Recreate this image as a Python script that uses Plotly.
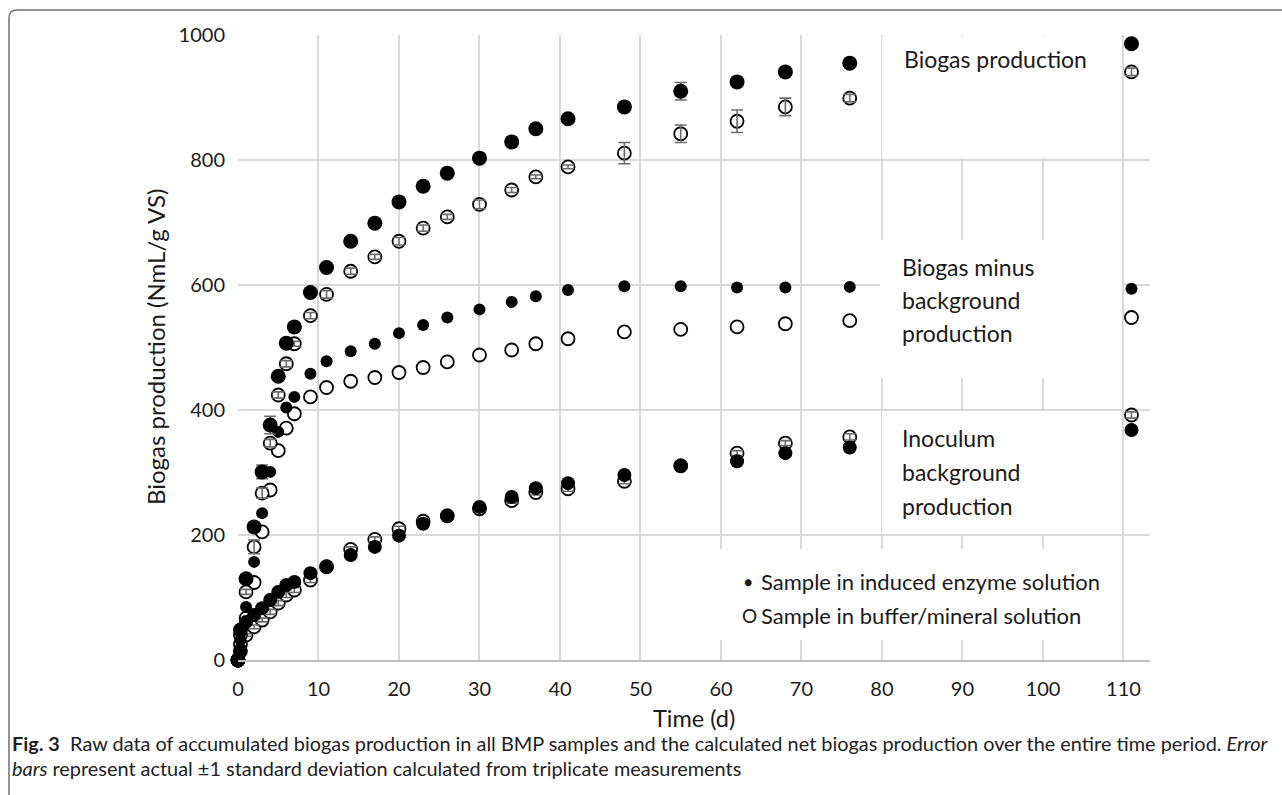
import plotly.graph_objects as go

# ---------------- data ----------------
days = [0, 0.3, 1, 2, 3, 4, 5, 6, 7, 9, 11, 14, 17, 20, 23, 26, 30, 34, 37, 41, 48, 55, 62, 68, 76, 111]

biogas_enzyme = [0, 48, 130, 213, 301, 376, 454, 507, 533, 588, 628, 670, 699, 733, 758, 779, 803, 829, 850, 866, 885, 910, 925, 941, 955, 986]
biogas_enzyme_sd = [0, 2, 4, 6, 11, 14, 4, 4, 4, 3, 3, 3, 3, 3, 3, 3, 3, 3, 3, 3, 3, 14, 3, 3, 3, 4]
biogas_buffer = [0, 40, 109, 181, 267, 347, 424, 474, 506, 551, 585, 622, 645, 670, 691, 709, 729, 752, 773, 789, 811, 842, 862, 885, 899, 941]
biogas_buffer_sd = [0, 2, 4, 11, 8, 6, 5, 5, 4, 5, 6, 5, 4, 6, 5, 4, 7, 4, 3, 3, 17, 14, 18, 14, 6, 6]

net_enzyme = [0, 32, 85, 157, 235, 301, 365, 404, 421, 458, 478, 494, 506, 523, 536, 548, 561, 573, 582, 592, 598, 598, 596, 596, 597, 594]
net_buffer = [0, 25, 67, 124, 205, 272, 335, 371, 394, 421, 436, 446, 452, 460, 468, 477, 488, 496, 506, 514, 525, 529, 533, 538, 543, 548]

bg_enzyme = [0, 16, 61, 72, 83, 96, 109, 120, 125, 139, 150, 168, 181, 199, 218, 230, 245, 261, 275, 283, 296, 310, 318, 331, 340, 368]
bg_enzyme_sd = [0, 1, 2, 2, 3, 3, 3, 3, 3, 3, 3, 3, 3, 3, 3, 3, 3, 3, 3, 3, 3, 3, 3, 3, 3, 3]
bg_buffer = [0, 14, 40, 53, 64, 77, 91, 104, 112, 128, 149, 177, 193, 210, 222, 231, 242, 255, 268, 274, 286, 311, 331, 347, 357, 392]
bg_buffer_sd = [0, 1, 2, 3, 3, 4, 4, 4, 4, 4, 4, 4, 4, 4, 4, 4, 4, 4, 4, 4, 4, 4, 4, 4, 5, 5]

x_ticks = [0, 10, 20, 30, 40, 50, 60, 70, 80, 90, 100, 110]
y_ticks = [0, 200, 400, 600, 800, 1000]

# ---------------- layout geometry (pixels) ----------------
W, H = 1282, 795
L, R, T, B = 238, 1150, 35, 660   # plot area in pixels
FONT = "Lato"
ERR_COLOR = "#6b6b6b"
TXT = "#1a1a1a"


def px(xp):
    return (xp - L) / (R - L)


def py(yp):
    return (B - yp) / (B - T)


fig = go.Figure()


def open_trace(y, size):
    return go.Scatter(x=days, y=y, mode="markers", cliponaxis=False, showlegend=False,
                      marker=dict(symbol="circle", size=size, color="white",
                                  line=dict(color="black", width=1.8)))


def err_trace(y, sd):
    return go.Scatter(x=days, y=y, mode="markers", cliponaxis=False, showlegend=False,
                      marker=dict(size=2, opacity=0),
                      error_y=dict(type="data", array=sd, visible=True,
                                   color=ERR_COLOR, thickness=1.6, width=6))


def filled_trace(y, size, sd=None):
    kw = {}
    if sd is not None:
        kw["error_y"] = dict(type="data", array=sd, visible=True,
                             color=ERR_COLOR, thickness=1.6, width=6)
    return go.Scatter(x=days, y=y, mode="markers", cliponaxis=False, showlegend=False,
                      marker=dict(symbol="circle", size=size, color="black",
                                  line=dict(color="black", width=0)), **kw)


# open (buffer/mineral) series
fig.add_trace(open_trace(bg_buffer, 13))
fig.add_trace(err_trace(bg_buffer, bg_buffer_sd))
fig.add_trace(open_trace(net_buffer, 13))
fig.add_trace(open_trace(biogas_buffer, 13))
fig.add_trace(err_trace(biogas_buffer, biogas_buffer_sd))
# filled (induced enzyme) series
fig.add_trace(filled_trace(bg_enzyme, 14, bg_enzyme_sd))
fig.add_trace(filled_trace(net_enzyme, 12))
fig.add_trace(filled_trace(biogas_enzyme, 15, biogas_enzyme_sd))

shapes = []
# white text boxes covering the grid (no data inside them)
for (x0, y0, x1, y1) in [(882, 36, 1122, 158), (880, 240, 1122, 378),
                         (882, 411, 1122, 534), (720, 549, 1122, 640)]:
    shapes.append(dict(type="rect", xref="paper", yref="paper",
                       x0=px(x0), x1=px(x1), y0=py(y1), y1=py(y0),
                       fillcolor="white", line=dict(width=0), layer="above"))

# figure frame (top & left edges with rounded corner)
path = "M {a},{b} L {a},{c} Q {a},{d} {e},{d} L {f},{d}".format(
    a=px(9), b=py(800), c=py(18), d=py(10), e=px(17), f=px(1290))
shapes.append(dict(type="path", xref="paper", yref="paper", path=path,
                   line=dict(color="#6e6e6e", width=1.5), layer="above"))

annotations = []


def text(xp, yp, s, size=20, xanchor="left", color=TXT, angle=0):
    annotations.append(dict(xref="paper", yref="paper", x=px(xp), y=py(yp), text=s,
                            showarrow=False, xanchor=xanchor, yanchor="middle",
                            textangle=angle,
                            font=dict(family=FONT, size=size, color=color)))


text(902, 59, "Biogas production", size=23)
for i, s in enumerate(["Biogas minus", "background", "production"]):
    text(900, 267 + 33 * i, s, size=23)
for i, s in enumerate(["Inoculum", "background", "production"]):
    text(900, 438 + 34 * i, s, size=23)

# text legend
text(742, 581, "●", size=14)
text(759, 581, "Sample in induced enzyme solution", size=22)
text(740, 615, "O", size=19)
text(759, 615, "Sample in buffer/mineral solution", size=22)

# axis titles
text(694, 718, "Time (d)", size=23.5, xanchor="center")
text(155, 347, "Biogas production (NmL/g VS)", size=24, xanchor="center", angle=-90)

# caption
text(10, 743, "<b>Fig. 3</b>  Raw data of accumulated biogas production in all BMP samples and the "
              "calculated net biogas production over the entire time period. <i>Error</i>",
     size=19.9, color="#222")
text(10, 768, "<i>bars</i> represent actual ±1 standard deviation calculated from triplicate measurements",
     size=19.9, color="#222")

fig.update_layout(
    width=W, height=H, autosize=False,
    margin=dict(l=L, r=W - R, t=T, b=H - B, pad=0),
    paper_bgcolor="white", plot_bgcolor="white",
    font=dict(family=FONT, color=TXT),
    shapes=shapes, annotations=annotations,
    xaxis=dict(range=[0, 113.3], tickvals=x_ticks, ticktext=[str(v) for v in x_ticks],
               showgrid=True, gridcolor="#d9d9d9", gridwidth=1.5,
               zeroline=False, showline=True, linecolor="#bfbfbf", linewidth=2,
               ticks="", ticklabelstandoff=10,
               tickfont=dict(family=FONT, size=20, color=TXT)),
    yaxis=dict(range=[0, 1000], tickvals=y_ticks, ticktext=[str(v) for v in y_ticks],
               showgrid=True, gridcolor="#d9d9d9", gridwidth=1.5,
               zeroline=False, showline=False, ticks="", ticklabelstandoff=12,
               tickfont=dict(family=FONT, size=20, color=TXT)),
)

fig.write_html("out.html")
